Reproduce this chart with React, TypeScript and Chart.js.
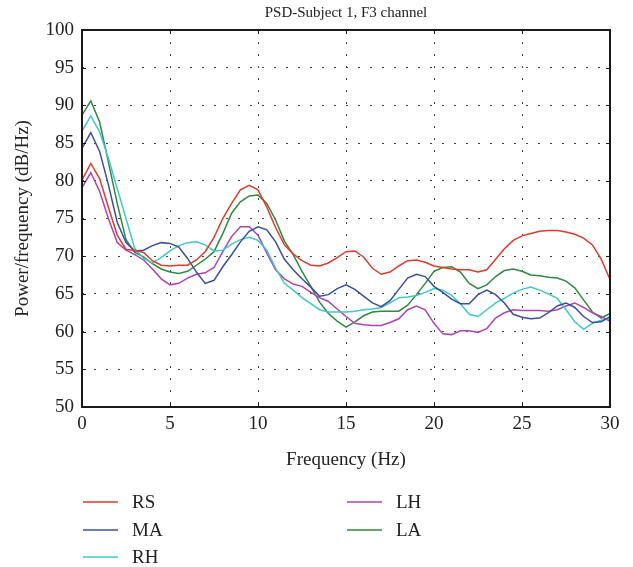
import React, { useEffect, useRef } from "react";
import { Chart, registerables } from "chart.js";

Chart.register(...registerables);

const freqs = [0, 0.5, 1, 1.5, 2, 2.5, 3, 3.5, 4, 4.5, 5, 5.5, 6, 6.5, 7, 7.5, 8, 8.5, 9, 9.5, 10, 10.5, 11, 11.5, 12, 12.5, 13, 13.5, 14, 14.5, 15, 15.5, 16, 16.5, 17, 17.5, 18, 18.5, 19, 19.5, 20, 20.5, 21, 21.5, 22, 22.5, 23, 23.5, 24, 24.5, 25, 25.5, 26, 26.5, 27, 27.5, 28, 28.5, 29, 29.5, 30];

const RS = [80.1, 82.3, 80.3, 76.5, 72.8, 70.9, 70.8, 70.5, 69.4, 68.8, 68.7, 68.8, 68.8, 69.5, 70.6, 72.5, 75.0, 77.0, 78.8, 79.4, 78.8, 76.5, 73.8, 71.5, 70.3, 69.4, 68.8, 68.7, 69.1, 69.8, 70.6, 70.7, 69.9, 68.4, 67.6, 67.9, 68.7, 69.4, 69.5, 69.2, 68.7, 68.5, 68.3, 68.2, 68.2, 67.9, 68.2, 69.6, 71.0, 72.1, 72.7, 73.0, 73.3, 73.4, 73.4, 73.2, 72.9, 72.4, 71.5, 69.6, 66.9];
const MA = [84.3, 86.4, 83.9, 79.5, 74.5, 71.8, 70.7, 70.8, 71.4, 71.8, 71.7, 71.2, 69.7, 67.9, 66.4, 66.8, 68.6, 70.2, 71.9, 73.3, 73.9, 73.5, 71.9, 69.6, 68.2, 67.0, 65.9, 64.7, 64.9, 65.7, 66.2, 65.6, 64.7, 63.8, 63.3, 64.1, 65.6, 67.1, 67.6, 67.3, 66.0, 65.2, 64.3, 63.7, 63.7, 64.9, 65.5, 64.9, 63.8, 62.3, 61.9, 61.7, 61.8, 62.5, 63.4, 63.8, 63.2, 62.0, 61.2, 61.3, 62.0];
const RH = [86.6, 88.6, 86.5, 83.0, 79.0, 75.0, 71.0, 69.7, 69.1, 69.8, 70.7, 71.4, 71.8, 71.9, 71.5, 70.7, 70.8, 71.6, 72.2, 72.5, 72.1, 70.8, 68.4, 66.4, 65.5, 64.5, 63.7, 62.9, 62.6, 62.6, 62.6, 62.7, 62.9, 63.0, 63.2, 63.8, 64.5, 64.6, 64.8, 65.2, 65.7, 65.5, 64.8, 63.7, 62.3, 62.0, 62.9, 63.8, 64.4, 65.1, 65.6, 65.9, 65.5, 65.0, 64.4, 62.9, 61.3, 60.3, 61.1, 61.5, 61.7];
const LH = [79.1, 81.1, 78.6, 75.0, 71.8, 70.8, 70.2, 69.5, 68.3, 67.0, 66.2, 66.4, 67.1, 67.6, 67.8, 68.5, 70.6, 72.6, 73.9, 73.9, 72.8, 70.4, 68.2, 67.0, 66.3, 66.0, 65.2, 64.5, 64.0, 63.0, 62.0, 61.1, 60.9, 60.8, 60.8, 61.2, 61.7, 62.9, 63.4, 62.9, 61.1, 59.7, 59.6, 60.1, 60.1, 59.9, 60.4, 61.8, 62.5, 62.9, 62.8, 62.8, 62.8, 62.7, 62.9, 63.4, 63.8, 63.2, 62.5, 62.0, 61.4];
const LA = [88.7, 90.6, 87.8, 82.5, 77.0, 72.2, 70.5, 69.9, 69.0, 68.3, 67.9, 67.7, 68.0, 68.8, 69.6, 70.6, 73.0, 75.7, 77.2, 78.0, 78.1, 77.0, 74.8, 72.0, 70.2, 68.0, 66.0, 63.9, 62.4, 61.4, 60.6, 61.3, 62.1, 62.6, 62.7, 62.7, 62.7, 63.5, 64.9, 66.4, 68.0, 68.5, 68.6, 67.9, 66.4, 65.7, 66.2, 67.3, 68.1, 68.3, 68.0, 67.5, 67.4, 67.2, 67.1, 66.7, 65.8, 64.2, 62.6, 61.8, 62.4];

const seriesNames = ["RS", "MA", "RH", "LH", "LA"];
const seriesValues = [RS, MA, RH, LH, LA];
const seriesColors = ["#e2392b", "#3a4ea4", "#3fc8c8", "#b043b2", "#2e8a40"];

const TITLE = "PSD-Subject 1, F3 channel";
const X_TITLE = "Frequency (Hz)";
const Y_TITLE = "Power/frequency (dB/Hz)";

const FONT = '"Liberation Serif", "DejaVu Serif", serif';

const framePlugin = {
  id: "frame",
  afterDraw(chart: any) {
    const { ctx, chartArea } = chart;
    const { left, right, top, bottom } = chartArea;
    const xs = chart.scales.x;
    const ys = chart.scales.y;
    ctx.save();
    ctx.strokeStyle = "#1a1a1a";
    ctx.lineWidth = 1;
    ctx.setLineDash([]);
    const tl = 4;
    xs.ticks.forEach((t: any) => {
      const px = Math.round(xs.getPixelForValue(t.value)) + 0.5;
      ctx.beginPath();
      ctx.moveTo(px, bottom);
      ctx.lineTo(px, bottom - tl);
      ctx.moveTo(px, top);
      ctx.lineTo(px, top + tl);
      ctx.stroke();
    });
    ys.ticks.forEach((t: any) => {
      const py = Math.round(ys.getPixelForValue(t.value)) + 0.5;
      ctx.beginPath();
      ctx.moveTo(left, py);
      ctx.lineTo(left + tl, py);
      ctx.moveTo(right, py);
      ctx.lineTo(right - tl, py);
      ctx.stroke();
    });
    ctx.lineWidth = 2;
    ctx.strokeStyle = "#1a1a1a";
    ctx.strokeRect(left, top, right - left, bottom - top);

    ctx.fillStyle = "#222";
    ctx.textAlign = "center";
    ctx.textBaseline = "middle";
    ctx.font = `15px ${FONT}`;
    ctx.fillText(TITLE, (left + right) / 2, 13);

    ctx.font = `19px ${FONT}`;
    ctx.fillText(X_TITLE, (left + right) / 2, 460);

    ctx.save();
    ctx.translate(23, (top + bottom) / 2);
    ctx.rotate(-Math.PI / 2);
    ctx.fillText(Y_TITLE, 0, 0);
    ctx.restore();

    // legend in two columns
    const cols = [83, 347];
    const rows = [502, 530, 557];
    ctx.font = `19px ${FONT}`;
    ctx.textAlign = "left";
    chart.data.datasets.forEach((ds: any, i: number) => {
      const col = i < 3 ? 0 : 1;
      const row = i < 3 ? i : i - 3;
      const x0 = cols[col];
      const y0 = rows[row];
      ctx.strokeStyle = ds.borderColor;
      ctx.lineWidth = 1.5;
      ctx.beginPath();
      ctx.moveTo(x0, y0);
      ctx.lineTo(x0 + 35, y0);
      ctx.stroke();
      ctx.fillStyle = "#222";
      ctx.fillText(ds.label, x0 + 49, y0 + 1);
    });
    ctx.restore();
  },
};

export default function App() {
  const ref = useRef<HTMLCanvasElement | null>(null);
  useEffect(() => {
    if (!ref.current) return;
    const datasets = seriesNames.map((name, i) => ({
      label: name,
      data: freqs.map((f, j) => ({ x: f, y: seriesValues[i][j] })),
      borderColor: seriesColors[i],
      backgroundColor: seriesColors[i],
      borderWidth: 1.5,
      pointRadius: 0,
      tension: 0,
      fill: false,
    }));
    const gridColor = (c: any) => {
      const v = c.tick ? c.tick.value : null;
      return "#444";
    };
    const chart = new Chart(ref.current, {
      type: "line",
      data: { datasets },
      options: {
        animation: false,
        responsive: false,
        maintainAspectRatio: false,
        layout: { padding: { left: 0, right: 23, top: 30, bottom: 0 } },
        plugins: {
          legend: { display: false },
          title: { display: false },
          tooltip: { enabled: false },
        },
        scales: {
          x: {
            type: "linear",
            min: 0,
            max: 30,
            afterFit: (s: any) => {
              s.height = 160;
            },
            ticks: {
              stepSize: 5,
              color: "#222",
              font: { family: FONT, size: 19 },
              padding: 6,
              maxRotation: 0,
            },
            grid: { color: gridColor, lineWidth: 1, drawTicks: false },
            border: { display: false, dash: [2, 10] },
          },
          y: {
            type: "linear",
            min: 50,
            max: 100,
            afterFit: (s: any) => {
              s.width = 82;
            },
            ticks: {
              stepSize: 5,
              color: "#222",
              font: { family: FONT, size: 19 },
              padding: 8,
            },
            grid: { color: gridColor, lineWidth: 1, drawTicks: false },
            border: { display: false, dash: [2, 10] },
          },
        },
      },
      plugins: [framePlugin],
    });
    return () => chart.destroy();
  }, []);
  return (
    <div style={{ position: "fixed", left: 0, top: 0, width: 633, height: 567, background: "#fff" }}>
      <canvas ref={ref} width={633} height={567} style={{ width: 633, height: 567, display: "block" }} />
    </div>
  );
}
